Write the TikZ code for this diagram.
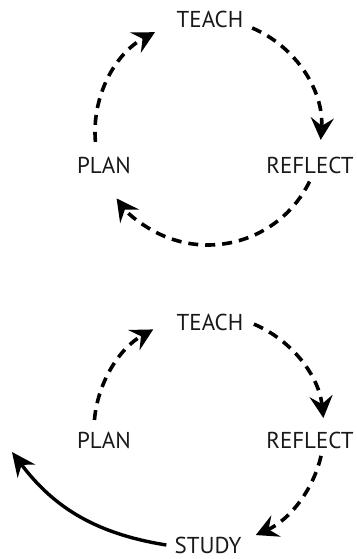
\documentclass[tikz,border=0pt]{standalone}
\usepackage{fontspec}
\setmainfont{PT Sans}
\usetikzlibrary{arrows.meta}
\tikzset{
    every node/.style={font=\fontsize{23}{27}\selectfont, text=black!90, inner sep=0pt},
    cyclearrow/.style={line width=3.6pt, dash pattern=on 10pt off 7pt, -{Stealth[length=22pt, width=23pt, inset=8pt]}},
    studyarrow/.style={line width=3.4pt, -{Stealth[length=24pt, width=22pt, inset=8pt]}}
}
\begin{document}
\begin{tikzpicture}[x=1pt, y=1pt]
        \useasboundingbox (0,0) rectangle (356,559);
        % upper cycle
        \coordinate (upc) at (208,427);
        \node (teachA) at (210,540) {TEACH};
        \node (planA) at (104,394) {PLAN};
        \node (reflectA) at (310,394) {REFLECT};
        \path (upc) ++(185:113) coordinate (planAout);
        \path (upc) ++(67:113) coordinate (teachAout);
        \path (upc) ++(-26:113) coordinate (reflectAout);
        \draw[cyclearrow] (planAout) arc[start angle=185, end angle=118, radius=113];
        \draw[cyclearrow] (teachAout) arc[start angle=67, end angle=-4, radius=113];
        \draw[cyclearrow] (reflectAout) arc[start angle=-26, end angle=-144, radius=113];
        % lower cycle
        \coordinate (loc) at (209,129);
        \node (teachB) at (210,237) {TEACH};
        \node (planB) at (104,119) {PLAN};
        \node (reflectB) at (310,119) {REFLECT};
        \node (study) at (208,14) {STUDY};
        \coordinate (planBtip) at (12,107);
        \path (loc) ++(175:115) coordinate (planBout);
        \path (loc) ++(67:115) coordinate (teachBout);
        \path (loc) ++(-13:115) coordinate (reflectBout);
        \draw[cyclearrow] (planBout) arc[start angle=175, end angle=119, radius=115];
        \draw[cyclearrow] (teachBout) arc[start angle=67, end angle=6, radius=115];
        \draw[cyclearrow] (reflectBout) arc[start angle=-13, end angle=-66, radius=115];
        \draw[studyarrow] (study.west) ++(-8,0) to[bend left=22] (planBtip);
    \end{tikzpicture}
\end{document}
